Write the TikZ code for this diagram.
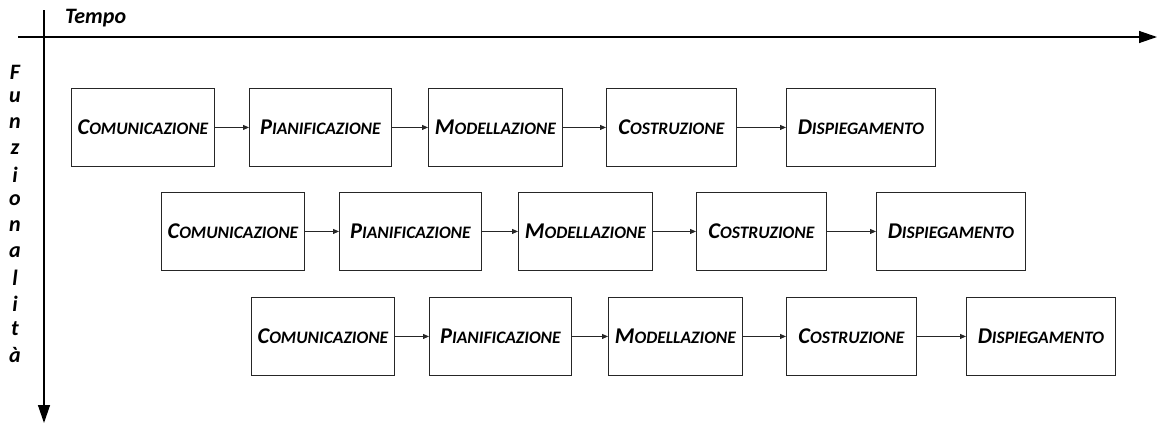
\documentclass[tikz,border=0pt]{standalone}
\usepackage{fontspec}
\setmainfont{Carlito}
\usetikzlibrary{arrows.meta}
% small-caps look: a larger initial, the rest in smaller capitals
\newcommand{\phaselabel}[2]{{\fontsize{22.5}{26}\selectfont #1}{\fontsize{17.5}{26}\selectfont #2}}
\tikzset{
  phasebox/.style={draw=black!85, line width=0.9pt, minimum height=78pt, inner sep=0pt,
    anchor=north west, font=\bfseries\itshape},
  flow/.style={-{Triangle[length=6pt,width=5pt]}, line width=0.9pt, draw=black!85},
  axis/.style={-{Triangle[length=18pt,width=12pt]}, line width=1.3pt},
  axislabel/.style={font=\bfseries\itshape\fontsize{22}{26}\selectfont, inner sep=0pt}
}
\begin{document}
\begin{tikzpicture}[x=1pt,y=-1pt]
\useasboundingbox (0,0) rectangle (1160,423);
% axes
\coordinate (hs) at (18,37);
\coordinate (he) at (1157,37);
\coordinate (vs) at (44,10);
\coordinate (ve) at (44,423);
\draw[axis] (hs) -- (he);
\draw[axis] (vs) -- (ve);
\node[axislabel, anchor=west] (tempo) at (65,18) {Tempo};
\foreach \ch [count=\i from 0] in {F,u,n,z,i,o,n,a,l,i,t,à}
  \node[axislabel] (f\i) at (15,72+25.7*\i) {\ch};
% three shifted iterations of the five phases
\foreach \r/\dx/\y in {1/0/88, 2/90/192, 3/180/297} {
  \node[phasebox, minimum width=143pt] (r\r a) at (71+\dx,\y) {\phaselabel{C}{OMUNICAZIONE}};
  \node[phasebox, minimum width=142pt] (r\r b) at (249+\dx,\y) {\phaselabel{P}{IANIFICAZIONE}};
  \node[phasebox, minimum width=134pt] (r\r c) at (428+\dx,\y) {\phaselabel{M}{ODELLAZIONE}};
  \node[phasebox, minimum width=130pt] (r\r d) at (606+\dx,\y) {\phaselabel{C}{OSTRUZIONE}};
  \node[phasebox, minimum width=149pt] (r\r e) at (786+\dx,\y) {\phaselabel{D}{ISPIEGAMENTO}};
  \draw[flow] (r\r a) -- (r\r b);
  \draw[flow] (r\r b) -- (r\r c);
  \draw[flow] (r\r c) -- (r\r d);
  \draw[flow] (r\r d) -- (r\r e);
}
\end{tikzpicture}
\end{document}
